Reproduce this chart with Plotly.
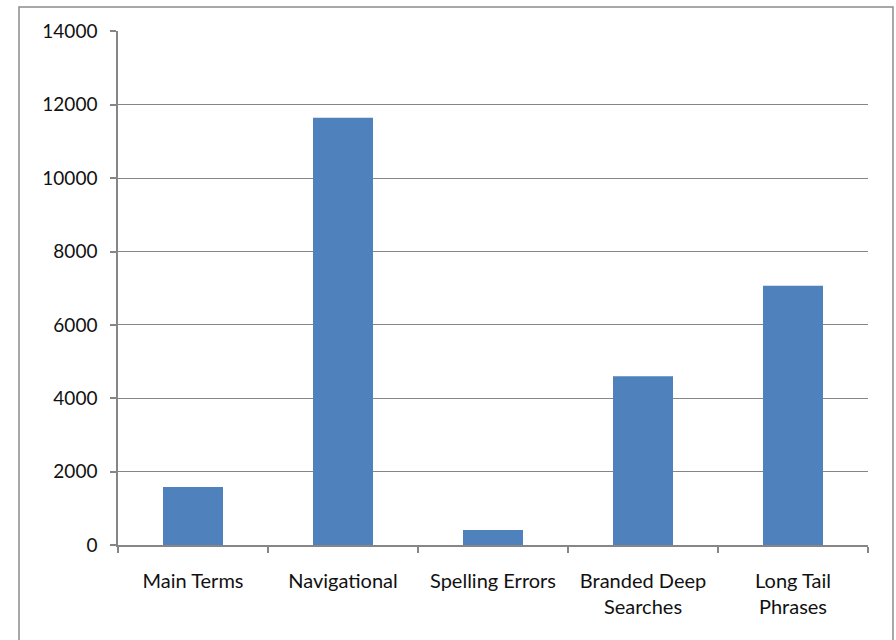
import plotly.graph_objects as go

categories = ["Main Terms", "Navigational", "Spelling Errors", "Branded Deep<br>Searches", "Long Tail<br>Phrases"]
values = [1580, 11650, 410, 4600, 7070]
y_ticks = [0, 2000, 4000, 6000, 8000, 10000, 12000, 14000]
y_tick_labels = [str(v) for v in y_ticks]

fig = go.Figure(go.Bar(x=categories, y=values, marker=dict(color="#4F81BD", line=dict(width=0)), width=0.4))

gray = "#868686"
font = dict(family="Lato, Open Sans, sans-serif", size=19, color="#111111")

fig.update_layout(
    width=896, height=640,
    margin=dict(l=118, r=28, t=31, b=95),
    paper_bgcolor="white", plot_bgcolor="white",
    showlegend=False,
    font=font,
    bargap=0.6,
    shapes=[dict(type="rect", xref="paper", yref="paper", x0=-0.132, x1=1.0333, y0=-0.4, y1=1.0467,
                 line=dict(color="#8c8c8c", width=1.5), layer="below")],
)
fig.update_xaxes(
    showline=True, linecolor=gray, linewidth=1.5,
    ticks="outside", ticklen=6, tickcolor=gray, tickwidth=1.5,
    tickson="boundaries", showgrid=False,
    tickfont=dict(size=20),
    ticklabelstandoff=17,
)
fig.update_yaxes(
    range=[0, 14012], tickvals=y_ticks, ticktext=y_tick_labels,
    showline=True, linecolor=gray, linewidth=1.5,
    ticks="outside", ticklen=6, tickcolor=gray, tickwidth=1.5,
    showgrid=True, gridcolor=gray, gridwidth=1.2,
    zeroline=False, ticklabelstandoff=9,
)
fig.write_html("out.html")
